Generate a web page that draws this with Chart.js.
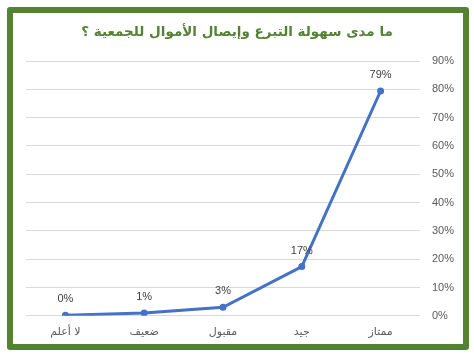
<!DOCTYPE html>
<html>
<head>
<meta charset="utf-8">
<script src="https://cdn.jsdelivr.net/npm/chart.js@4/dist/chart.umd.min.js"></script>
<style>
  html, body { margin: 0; padding: 0; background: #fff; }
  #wrap { position: relative; width: 474px; height: 355px; }
  #c { position: absolute; left: 0; top: 0; }
  #frame { position: absolute; left: 7px; top: 7px; width: 462px; height: 343px; box-sizing: border-box;
           border: 6px solid #548235; border-radius: 3px; pointer-events: none; }
</style>
</head>
<body>
<div id="wrap">
  <canvas id="c" width="474" height="355"></canvas>
  <div id="frame"></div>
</div>
<script>
const titleText = "ما مدى سهولة التبرع وإيصال الأموال للجمعية ؟";
const categories = ["لا أعلم", "ضعيف", "مقبول", "جيد", "ممتاز"];
const values = [0.2, 1.0, 3.0, 17.4, 79.4];
const valueLabels = ["0%", "1%", "3%", "17%", "79%"];
const yTicks = [0, 10, 20, 30, 40, 50, 60, 70, 80, 90];

const pointLabels = {
  id: 'pointLabels',
  afterDatasetsDraw(chart) {
    const ctx = chart.ctx;
    const meta = chart.getDatasetMeta(0);
    ctx.save();
    ctx.font = '11px "Liberation Sans", Arial, sans-serif';
    ctx.fillStyle = '#404040';
    ctx.textAlign = 'center';
    ctx.textBaseline = 'middle';
    meta.data.forEach((pt, i) => {
      ctx.fillText(valueLabels[i], pt.x, pt.y - 16);
    });
    ctx.restore();
  }
};

const centeredTitle = {
  id: 'centeredTitle',
  afterDraw(chart) {
    const ctx = chart.ctx;
    ctx.save();
    ctx.font = 'bold 13.5px "DejaVu Sans", Arial, sans-serif';
    ctx.fillStyle = '#548235';
    ctx.textAlign = 'center';
    ctx.textBaseline = 'middle';
    ctx.direction = 'rtl';
    ctx.fillText(titleText, chart.width / 2, 32);
    ctx.restore();
  }
};

new Chart(document.getElementById('c'), {
  type: 'line',
  data: {
    labels: categories,
    datasets: [{
      data: values,
      borderColor: '#4472C4',
      backgroundColor: '#4472C4',
      borderWidth: 3,
      pointRadius: 3.5,
      pointHoverRadius: 3.5,
      pointBackgroundColor: '#4472C4',
      pointBorderWidth: 0,
      tension: 0,
      fill: false
    }]
  },
  options: {
    responsive: false,
    animation: false,
    devicePixelRatio: 1,
    layout: { padding: { left: 26, right: 8, top: 61, bottom: 6 } },
    plugins: {
      legend: { display: false },
      tooltip: { enabled: false },
      title: { display: false }
    },
    scales: {
      x: {
        offset: true,
        grid: { display: false, drawTicks: false },
        border: { display: false },
        ticks: {
          color: '#595959',
          padding: 10,
          font: { family: '"DejaVu Sans", Arial, sans-serif', size: 11 }
        }
      },
      y: {
        position: 'right',
        min: 0,
        max: 90,
        afterBuildTicks(axis) { axis.ticks = yTicks.map(v => ({ value: v })); },
        grid: { color: '#d9d9d9', lineWidth: 1, drawTicks: false },
        border: { display: false },
        ticks: {
          color: '#595959',
          padding: 12,
          font: { family: '"Liberation Sans", Arial, sans-serif', size: 11 },
          callback: v => v + '%'
        }
      }
    }
  },
  plugins: [pointLabels, centeredTitle]
});
</script>
</body>
</html>
